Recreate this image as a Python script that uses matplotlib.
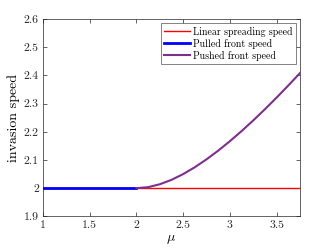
import numpy as np
import matplotlib
matplotlib.use("Agg")
import matplotlib.pyplot as plt
from matplotlib.ticker import FormatStrFormatter

plt.rcParams['font.family'] = ['cmr10', 'DejaVu Serif']
plt.rcParams['mathtext.fontset'] = 'cm'
plt.rcParams['axes.formatter.use_mathtext'] = True

# data
mu_lin = [1.0, 3.75]
c_lin = [2.0, 2.0]

mu_pulled = [1.0, 2.0]
c_pulled = [2.0, 2.0]

mu_pushed = [2.0, 2.125, 2.25, 2.375, 2.5, 2.625, 2.75, 2.875, 3.0,
             3.125, 3.25, 3.375, 3.5, 3.625, 3.75]
c_pushed = [2.0, 2.0037, 2.0139, 2.0296, 2.05, 2.0744, 2.1023, 2.1332, 2.1667,
            2.2025, 2.2404, 2.2801, 2.3214, 2.3642, 2.4083]

x_ticks = [1, 1.5, 2, 2.5, 3, 3.5]
y_ticks = [1.9, 2.0, 2.1, 2.2, 2.3, 2.4, 2.5, 2.6]

fig = plt.figure(figsize=(3.32, 2.49), dpi=100)
ax = fig.add_axes([0.1295, 0.131, 0.7741, 0.7927])

ax.plot(mu_lin, c_lin, color='#ff0000', lw=1.0, label='Linear spreading speed')
ax.plot(mu_pulled, c_pulled, color='#0000ff', lw=2.0, label='Pulled front speed')
ax.plot(mu_pushed, c_pushed, color='#7e2f8e', lw=1.5, label='Pushed front speed')

ax.set_xlim(1, 3.75)
ax.set_ylim(1.9, 2.6)
ax.set_xticks(x_ticks)
ax.set_yticks(y_ticks)
ax.xaxis.set_major_formatter(FormatStrFormatter('%g'))
ax.yaxis.set_major_formatter(FormatStrFormatter('%g'))

ax.tick_params(direction='in', top=True, right=True, length=3, width=0.5,
               labelsize=8.5, colors='#262626', pad=3)
for s in ax.spines.values():
    s.set_color('#262626')
    s.set_linewidth(0.5)

ax.set_xlabel(r'$\mu$', fontsize=10, labelpad=2)
ax.set_ylabel('invasion speed', fontsize=10, labelpad=3)

leg = ax.legend(loc='upper right', fontsize=7.1, frameon=True, fancybox=False,
                edgecolor='#262626', handlelength=2.6, handletextpad=0.3,
                borderpad=0.35, labelspacing=0.2, borderaxespad=0.45)
leg.get_frame().set_linewidth(0.5)

fig.savefig('out.png', dpi=100)
